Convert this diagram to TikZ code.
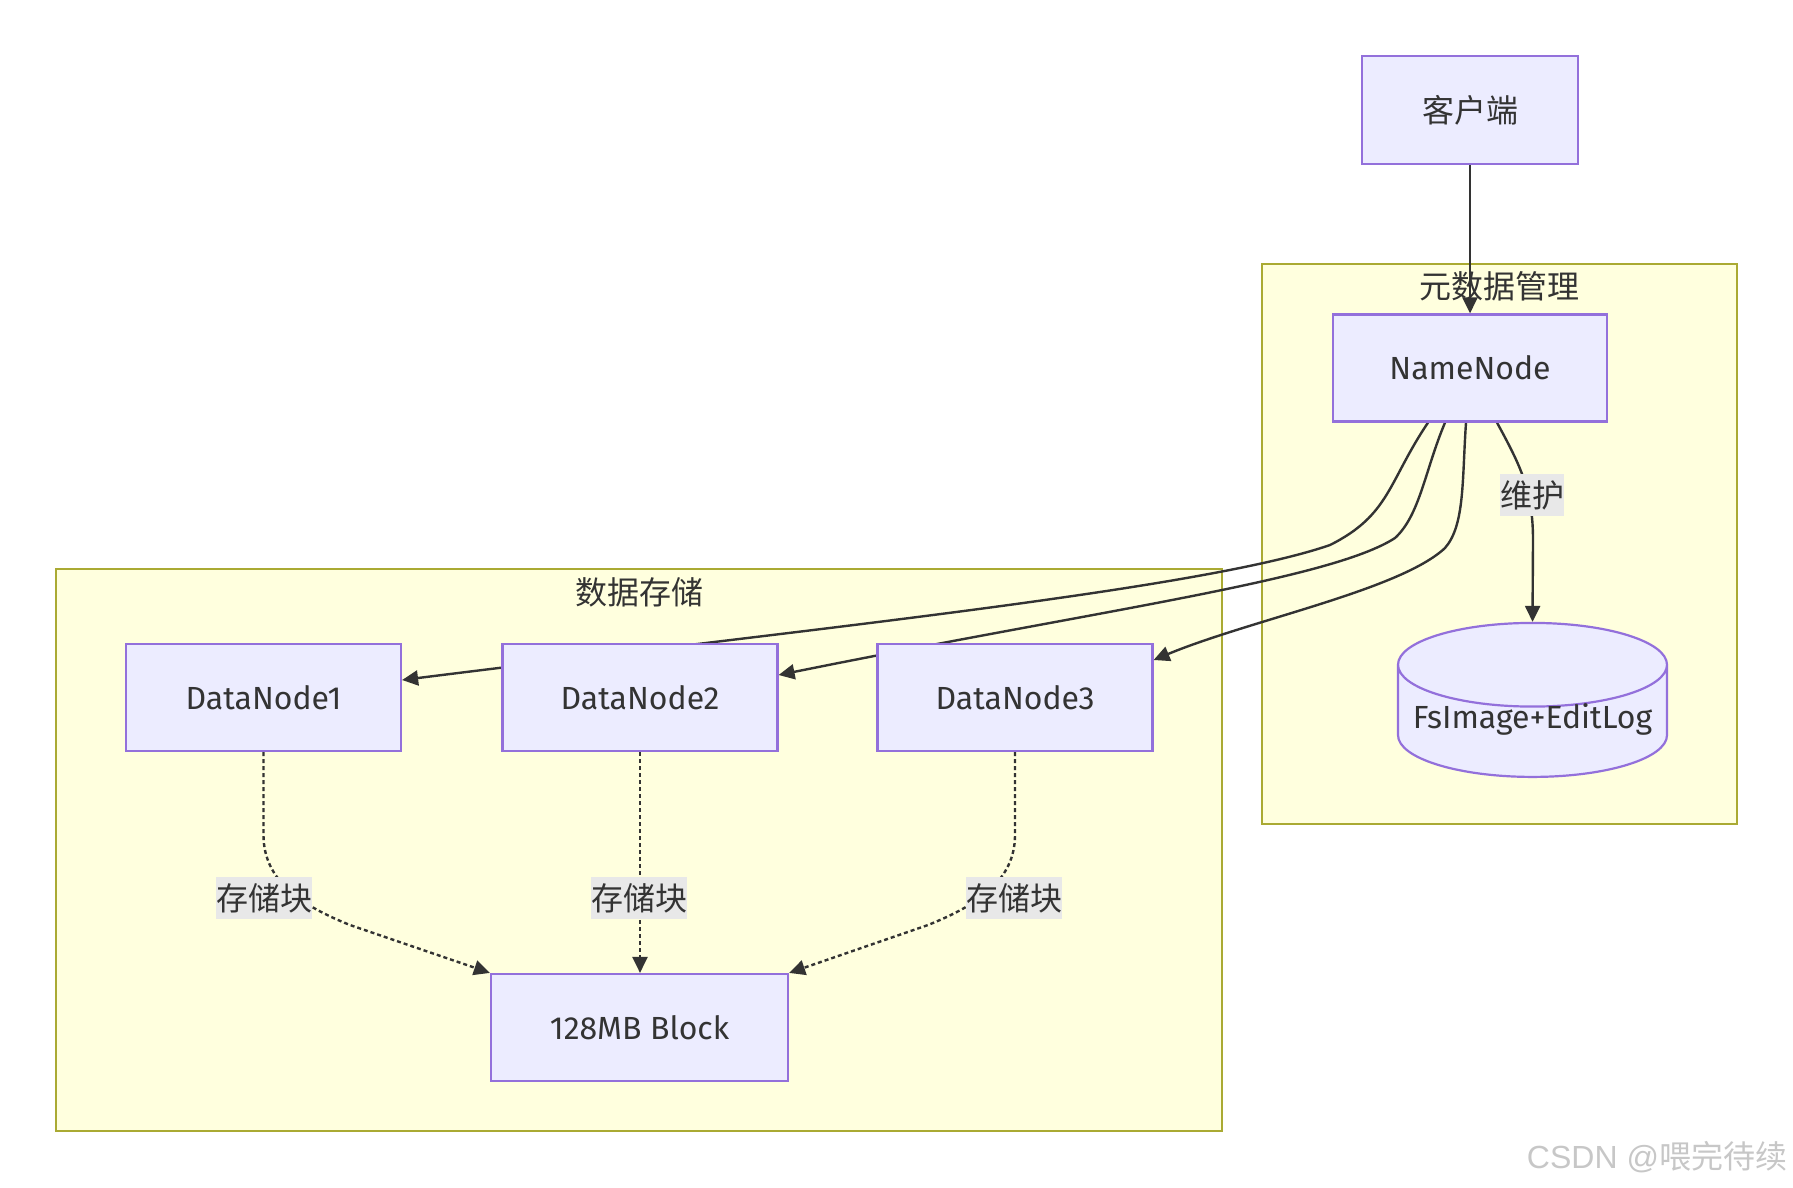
\documentclass[tikz,border=0pt]{standalone}
\usepackage{fontspec}
\setmainfont{Fira Sans}
\newfontfamily\cjk{Noto Sans CJK SC}
\newfontfamily\wmfont{Liberation Sans}
\usetikzlibrary{arrows.meta,calc,shapes.geometric}
\definecolor{boxfill}{HTML}{ECECFF}
\definecolor{boxline}{HTML}{9370DB}
\definecolor{grpfill}{HTML}{FFFFDE}
\definecolor{grpline}{HTML}{AAAA33}
\definecolor{ink}{HTML}{333333}
\definecolor{lblfill}{HTML}{E8E8E8}
\pgfdeclarelayer{back}
\pgfdeclarelayer{wires}
\pgfsetlayers{back,wires,main}

\begin{document}
\begin{tikzpicture}[x=1pt,y=1pt,yscale=-1,
  box/.style={draw=boxline,fill=boxfill,line width=2.2pt,minimum width=275pt,minimum height=107pt,text=ink,font=\fontsize{32}{38}\selectfont},
  dbshape/.style={cylinder,shape border rotate=90,aspect=0.34,draw=boxline,fill=boxfill,line width=2.2pt,minimum width=269pt,minimum height=154pt,text=ink,font=\fontsize{32}{38}\selectfont},
  grp/.style={draw=grpline,fill=grpfill,line width=2.2pt},
  grptitle/.style={text=ink,font=\cjk\fontsize{32}{38}\selectfont},
  lbl/.style={fill=lblfill,text=ink,inner xsep=0pt,inner ysep=6pt,font=\cjk\fontsize{32}{38}\selectfont},
  link/.style={draw=ink,line width=2.4pt,-{Triangle[length=16pt,width=15pt]}},
  dotlink/.style={link,dash pattern=on 4pt off 3pt}]
\useasboundingbox (0,0) rectangle (1793,1187);

%Groups
\begin{pgfonlayer}{back}
\draw[grp] (1262,264) rectangle (1737,824);
\draw[grp] (56,569) rectangle (1222,1131);
\end{pgfonlayer}
\node[grptitle] (tmeta) at (1499,286) {元数据管理};
\node[grptitle] (tstore) at (639,592) {数据存储};

%Nodes
\node[box,minimum width=216pt,minimum height=108pt] (client) at (1470,110) {\cjk 客户端};
\node[box,minimum width=274pt] (nn) at (1470,368) {NameNode};
\node[dbshape] (db) at (1532.5,726) {\raisebox{-2pt}[0pt][0pt]{FsImage+EditLog}};
\node[box] (dn1) at (263.5,697.5) {DataNode1};
\node[box] (dn2) at (640,697.5) {DataNode2};
\node[box] (dn3) at (1015,697.5) {DataNode3};
\node[box,minimum width=297pt] (blk) at (639.5,1027.5) {128MB Block};

%Edges
\begin{pgfonlayer}{wires}
\draw[link] (client) -- (nn);
\draw[link] ($(nn.south)+(-42,0)$) .. controls (1388,482) and (1390,515) .. (1330,545) .. controls (1200,590) and (800,630) .. ($(dn1.east)+(0,-17.5)$);
\draw[link] ($(nn.south)+(-25,0)$) .. controls (1425,470) and (1420,515) .. (1395,538) .. controls (1330,580) and (1100,610) .. ($(dn2.east)+(0,-22.5)$);
\draw[link] ($(nn.south)+(-4,0)$) .. controls (1462,480) and (1465,525) .. (1445,548) .. controls (1400,590) and (1250,620) .. ($(dn3.east)+(0,-37.5)$);
\draw[link] ($(nn.south)+(27,0)$) .. controls (1520,465) and (1533,490) .. (1533,540) -- (db.north);
\draw[dotlink] (dn1.south) -- (263.5,835) .. controls (263.5,880) and (300,905) .. (350,925) -- (blk.north west);
\draw[dotlink] (dn2.south) -- (dn2.south |- blk.north);
\draw[dotlink] (dn3.south) -- (1015,835) .. controls (1015,880) and (978,905) .. (928,925) -- (blk.north east);
\end{pgfonlayer}

%Edge labels
\node[lbl] (keep) at (1532,495) {维护};
\node[lbl] (st1) at (264,898) {存储块};
\node[lbl] (st2) at (639,898) {存储块};
\node[lbl] (st3) at (1014,898) {存储块};

%Watermark
\node[text=black!22,font=\wmfont\fontsize{32}{38}\selectfont] (wm) at (1657,1157) {CSDN @{\cjk 喂完待续}};
\end{tikzpicture}
\end{document}
